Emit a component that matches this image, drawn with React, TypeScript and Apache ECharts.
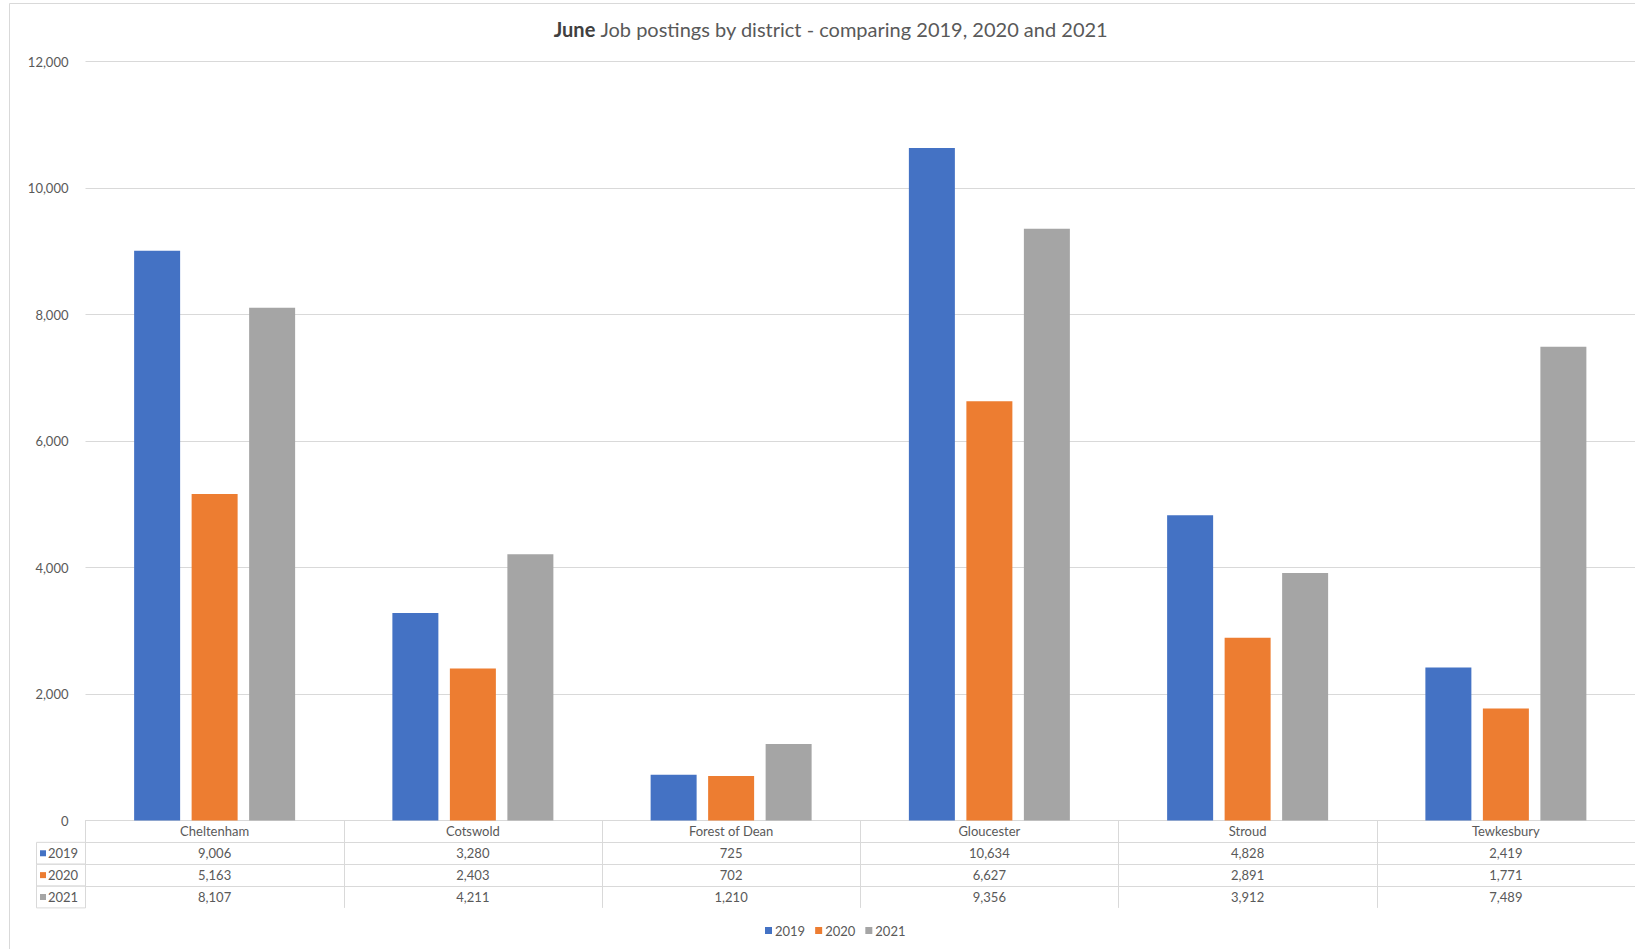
import React, { useEffect, useRef } from "react";
import * as echarts from "echarts";

const categories = ["Cheltenham", "Cotswold", "Forest of Dean", "Gloucester", "Stroud", "Tewkesbury"];
const years = ["2019", "2020", "2021"];
const values2019 = [9006, 3280, 725, 10634, 4828, 2419];
const values2020 = [5163, 2403, 702, 6627, 2891, 1771];
const values2021 = [8107, 4211, 1210, 9356, 3912, 7489];
const seriesValues = [values2019, values2020, values2021];
const colors = ["#4472C4", "#ED7D31", "#A5A5A5"];
const yMin = 0;
const yMax = 12000;
const yInterval = 2000;

const FONT = "Lato, 'Open Sans', sans-serif";
const TEXT = "#595959";
const LINE = "#d9d9d9";

const GRID_LEFT = 85.5;
const GRID_TOP = 61.5;
const GRID_H = 759;
const GRID_W = 1552;
const ROW_H = 21.85;

const fmt = (n: number) => n.toLocaleString("en-US");

export default function App() {
  const ref = useRef<HTMLDivElement>(null);
  useEffect(() => {
    if (!ref.current) return;
    const chart = echarts.init(ref.current, undefined, { renderer: "svg" });
    const axisBottom = GRID_TOP + GRID_H;

    const valueAxes = seriesValues.map((vals, k) => ({
      type: "category",
      gridIndex: 0,
      position: "bottom",
      offset: ROW_H * (k + 1),
      data: categories,
      boundaryGap: true,
      axisLine: { show: true, lineStyle: { color: LINE, width: 1 } },
      axisTick: { show: false },
      axisLabel: {
        interval: 0,
        margin: 4,
        color: TEXT,
        fontSize: 13,
        fontFamily: FONT,
        formatter: (_v: string, i: number) => fmt(vals[i]),
      },
      splitLine: { show: false },
    }));

    const leftColumn: any[] = [];
    years.forEach((y, i) => {
      const top = axisBottom + ROW_H * (i + 1);
      leftColumn.push({
        type: "rect",
        shape: { x: 36.5, y: top, width: GRID_LEFT - 36.5, height: ROW_H },
        style: { fill: "none", stroke: LINE, lineWidth: 1 },
        silent: true,
      });
      leftColumn.push({
        type: "rect",
        shape: { x: 40, y: top + ROW_H / 2 - 3, width: 6, height: 6 },
        style: { fill: colors[i] },
        silent: true,
      });
      leftColumn.push({
        type: "text",
        x: 48,
        y: top + ROW_H / 2,
        style: {
          text: y,
          fill: TEXT,
          fontSize: 13,
          fontFamily: FONT,
          verticalAlign: "middle",
          align: "left",
        },
        silent: true,
      });
    });

    chart.setOption({
      animation: false,
      backgroundColor: "#ffffff",
      textStyle: { fontFamily: FONT },
      title: {
        text: "{b|June} Job postings by district - comparing 2019, 2020 and 2021",
        left: 831,
        top: 19,
        padding: 0,
        textAlign: "center",
        textStyle: {
          fontSize: 20,
          fontWeight: "normal",
          color: TEXT,
          fontFamily: FONT,
          rich: {
            b: { fontSize: 20, fontWeight: "bold", color: "#404040", fontFamily: FONT },
          },
        },
      },
      legend: {
        data: years,
        left: 760,
        top: 919,
        icon: "rect",
        itemWidth: 7,
        itemHeight: 7,
        itemGap: 10,
        textStyle: { color: TEXT, fontSize: 13, fontFamily: FONT, padding: [0, 0, 0, -2] },
      },
      grid: { left: GRID_LEFT, top: GRID_TOP, width: GRID_W, height: GRID_H, containLabel: false },
      xAxis: [
        {
          type: "category",
          gridIndex: 0,
          position: "bottom",
          data: categories,
          boundaryGap: true,
          axisLine: { show: true, lineStyle: { color: LINE, width: 1 } },
          axisTick: { show: true, interval: 0, length: ROW_H * 4, lineStyle: { color: LINE, width: 1 } },
          axisLabel: { interval: 0, margin: 4, color: TEXT, fontSize: 13, fontFamily: FONT },
          splitLine: { show: false },
        },
        ...valueAxes,
      ],
      yAxis: {
        type: "value",
        min: yMin,
        max: yMax,
        interval: yInterval,
        axisLine: { show: false },
        axisTick: { show: false },
        axisLabel: {
          margin: 17,
          color: TEXT,
          fontSize: 13,
          fontFamily: FONT,
          formatter: (v: number) => fmt(v),
        },
        splitLine: { lineStyle: { color: LINE, width: 1 } },
      },
      series: years.map((y, i) => ({
        name: y,
        type: "bar",
        xAxisIndex: 0,
        data: seriesValues[i],
        barWidth: 46,
        barGap: "25%",
        itemStyle: { color: colors[i] },
      })),
      graphic: [
        {
          type: "rect",
          shape: { x: 9.5, y: 3.5, width: 2000, height: 2000 },
          style: { fill: "none", stroke: LINE, lineWidth: 1 },
          silent: true,
          z: -10,
        },
        ...leftColumn,
      ],
    });
    return () => chart.dispose();
  }, []);
  return (
    <div
      ref={ref}
      style={{ position: "fixed", left: 0, top: 0, width: 1635, height: 949 }}
    />
  );
}
